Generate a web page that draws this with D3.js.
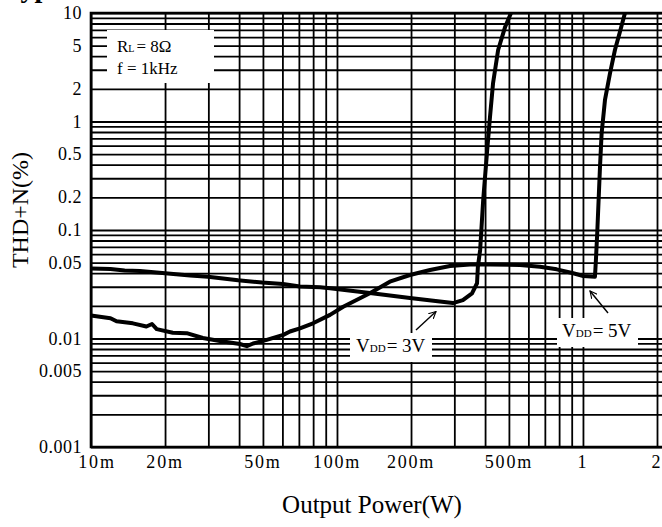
<!DOCTYPE html>
<html>
<head>
<meta charset="utf-8">
<script src="https://cdn.jsdelivr.net/npm/d3@7"></script>
<style>
  html, body { margin: 0; padding: 0; background: #fff; }
  svg { display: block; font-family: "Liberation Serif", "Times New Roman", serif; }
</style>
</head>
<body>
<svg id="svg" width="662" height="527"></svg>
<script>
// VDD = 3V curve
const power3V = [0.01, 0.012, 0.0137, 0.0158, 0.02, 0.0253, 0.0299, 0.0396, 0.0496, 0.0603, 0.0707, 0.0854, 0.0937, 0.136, 0.198, 0.262, 0.296, 0.325, 0.354, 0.371, 0.374, 0.382, 0.393, 0.408, 0.419, 0.431, 0.452, 0.483, 0.51];
const thd3V = [0.0442, 0.0437, 0.0424, 0.0419, 0.0399, 0.0381, 0.0371, 0.0344, 0.0328, 0.0318, 0.0301, 0.0296, 0.029, 0.0263, 0.0236, 0.0219, 0.0212, 0.0226, 0.0261, 0.0323, 0.0459, 0.0655, 0.189, 0.546, 1.11, 2.25, 4.56, 7.48, 10];

// VDD = 5V curve
const power5V = [0.01, 0.012, 0.0127, 0.0148, 0.0168, 0.0177, 0.0185, 0.0215, 0.0245, 0.0285, 0.0334, 0.0403, 0.043, 0.0456, 0.0518, 0.0605, 0.0644, 0.0707, 0.0799, 0.0937, 0.106, 0.136, 0.164, 0.198, 0.239, 0.288, 0.347, 0.419, 0.555, 0.669, 0.782, 0.913, 1.003, 1.119, 1.129, 1.143, 1.173, 1.191, 1.229, 1.288, 1.349, 1.414, 1.482];
const thd5V = [0.0163, 0.0154, 0.0144, 0.0138, 0.0129, 0.0136, 0.0122, 0.0113, 0.0112, 0.0101, 0.0095, 0.0089, 0.0085, 0.009, 0.0097, 0.0108, 0.0116, 0.0124, 0.0138, 0.0165, 0.0196, 0.0261, 0.0334, 0.0385, 0.0428, 0.0466, 0.0481, 0.0481, 0.0476, 0.0459, 0.0434, 0.0399, 0.0377, 0.0371, 0.0529, 0.0938, 0.383, 0.778, 1.58, 2.78, 4.56, 6.73, 10];

const xTicks = [0.01, 0.02, 0.05, 0.1, 0.2, 0.5, 1, 2];
const xTickLabels = ["10m", "20m", "50m", "100m", "200m", "500m", "1", "2"];
const yTicks = [10, 5, 2, 1, 0.5, 0.2, 0.1, 0.05, 0.01, 0.005, 0.001];
const yTickLabels = ["10", "5", "2", "1", "0.5", "0.2", "0.1", "0.05", "0.01", "0.005", "0.001"];

function chart() {
  const width = 662;
  const left = 91, right = 657, top = 13, bottom = 447;

  const x = d3.scaleLog().domain([0.01, 2]).range([left, right]);
  const y = d3.scaleLog().domain([0.001, 10]).range([bottom, top]);

  const svg = d3.select("#svg");

  // partly cropped heading at the very top
  svg.append("text")
    .attr("x", 4).attr("y", -3)
    .attr("font-size", 28).attr("font-weight", "bold")
    .text("Typical Performance Characteristics");

  // grid, 1..9 per decade
  const xGrid = svg.append("g")
    .attr("transform", `translate(0,${bottom})`)
    .call(d3.axisBottom(x).tickValues(x.ticks()).tickSize(-(bottom - top)).tickFormat(""));
  const yGrid = svg.append("g")
    .attr("transform", `translate(${left},0)`)
    .call(d3.axisLeft(y).tickValues(y.ticks()).tickSize(-(width - left)).tickFormat(""));
  [xGrid, yGrid].forEach(g => {
    g.select(".domain").remove();
    g.selectAll(".tick line").attr("stroke", "#000").attr("stroke-width", 1.8);
  });

  // frame
  svg.append("path")
    .attr("d", `M${width},${top}H${left}V${bottom}H${width}`)
    .attr("fill", "none").attr("stroke", "#000").attr("stroke-width", 2.6);

  // tick labels
  svg.append("g").selectAll("text")
    .data(yTicks)
    .join("text")
    .attr("x", 82)
    .attr("y", d => y(d) + 6)
    .attr("text-anchor", "end")
    .attr("font-size", 18)
    .attr("letter-spacing", 0.5)
    .text((d, i) => yTickLabels[i]);

  svg.append("g").selectAll("text")
    .data(xTicks)
    .join("text")
    .attr("x", (d, i) => x(d) + (i === 0 ? 6 : 0))
    .attr("y", 468)
    .attr("text-anchor", "middle")
    .attr("font-size", 18)
    .attr("letter-spacing", 1.8)
    .text((d, i) => xTickLabels[i]);

  // axis titles
  svg.append("text")
    .attr("x", 372).attr("y", 513)
    .attr("text-anchor", "middle")
    .attr("font-size", 25)
    .text("Output Power(W)");

  svg.append("text")
    .attr("transform", "translate(28,210) rotate(-90)")
    .attr("text-anchor", "middle")
    .attr("font-size", 24)
    .text("THD+N(%)");

  // curves
  const line = d3.line()
    .x(d => x(d[0]))
    .y(d => y(d[1]));

  const curves = [
    power3V.map((p, i) => [p, thd3V[i]]),
    power5V.map((p, i) => [p, thd5V[i]])
  ];
  svg.append("g").selectAll("path")
    .data(curves)
    .join("path")
    .attr("d", line)
    .attr("fill", "none")
    .attr("stroke", "#000")
    .attr("stroke-width", 4)
    .attr("stroke-linejoin", "round");

  // conditions box
  svg.append("rect")
    .attr("x", 107).attr("y", 30).attr("width", 107).attr("height", 53)
    .attr("fill", "#fff");
  const rl = svg.append("text").attr("x", 117).attr("y", 52).attr("font-size", 17);
  rl.append("tspan").text("R");
  rl.append("tspan").attr("font-size", 10).text("L");
  rl.append("tspan").attr("dx", 2).text("= 8Ω");
  svg.append("text").attr("x", 117).attr("y", 74).attr("font-size", 17).text("f = 1kHz");

  // arrow marker
  svg.append("defs").append("marker")
    .attr("id", "arr")
    .attr("viewBox", "0 -5 10 10")
    .attr("refX", 9).attr("refY", 0)
    .attr("markerWidth", 8).attr("markerHeight", 8)
    .attr("markerUnits", "userSpaceOnUse")
    .attr("orient", "auto")
    .append("path")
    .attr("d", "M0,-4.5L9,0L0,4.5")
    .attr("fill", "none").attr("stroke", "#000").attr("stroke-width", 1.4);

  // VDD labels
  const labels = [
    { box: [350, 333, 82, 29], tx: 356, ty: 352, v: "3V", arrow: [416, 330, 436, 311.5] },
    { box: [557, 318, 81, 29], tx: 562, ty: 337, v: "5V", arrow: [608, 313, 590, 291] }
  ];
  labels.forEach(l => {
    svg.append("rect")
      .attr("x", l.box[0]).attr("y", l.box[1]).attr("width", l.box[2]).attr("height", l.box[3])
      .attr("fill", "#fff");
    const t = svg.append("text").attr("x", l.tx).attr("y", l.ty).attr("font-size", 19);
    t.append("tspan").text("V");
    t.append("tspan").attr("font-size", 11).text("DD");
    t.append("tspan").attr("dx", 1).text("= " + l.v);
    svg.append("line")
      .attr("x1", l.arrow[0]).attr("y1", l.arrow[1])
      .attr("x2", l.arrow[2]).attr("y2", l.arrow[3])
      .attr("stroke", "#000").attr("stroke-width", 1.4)
      .attr("marker-end", "url(#arr)");
  });
}

chart();
</script>
</body>
</html>
